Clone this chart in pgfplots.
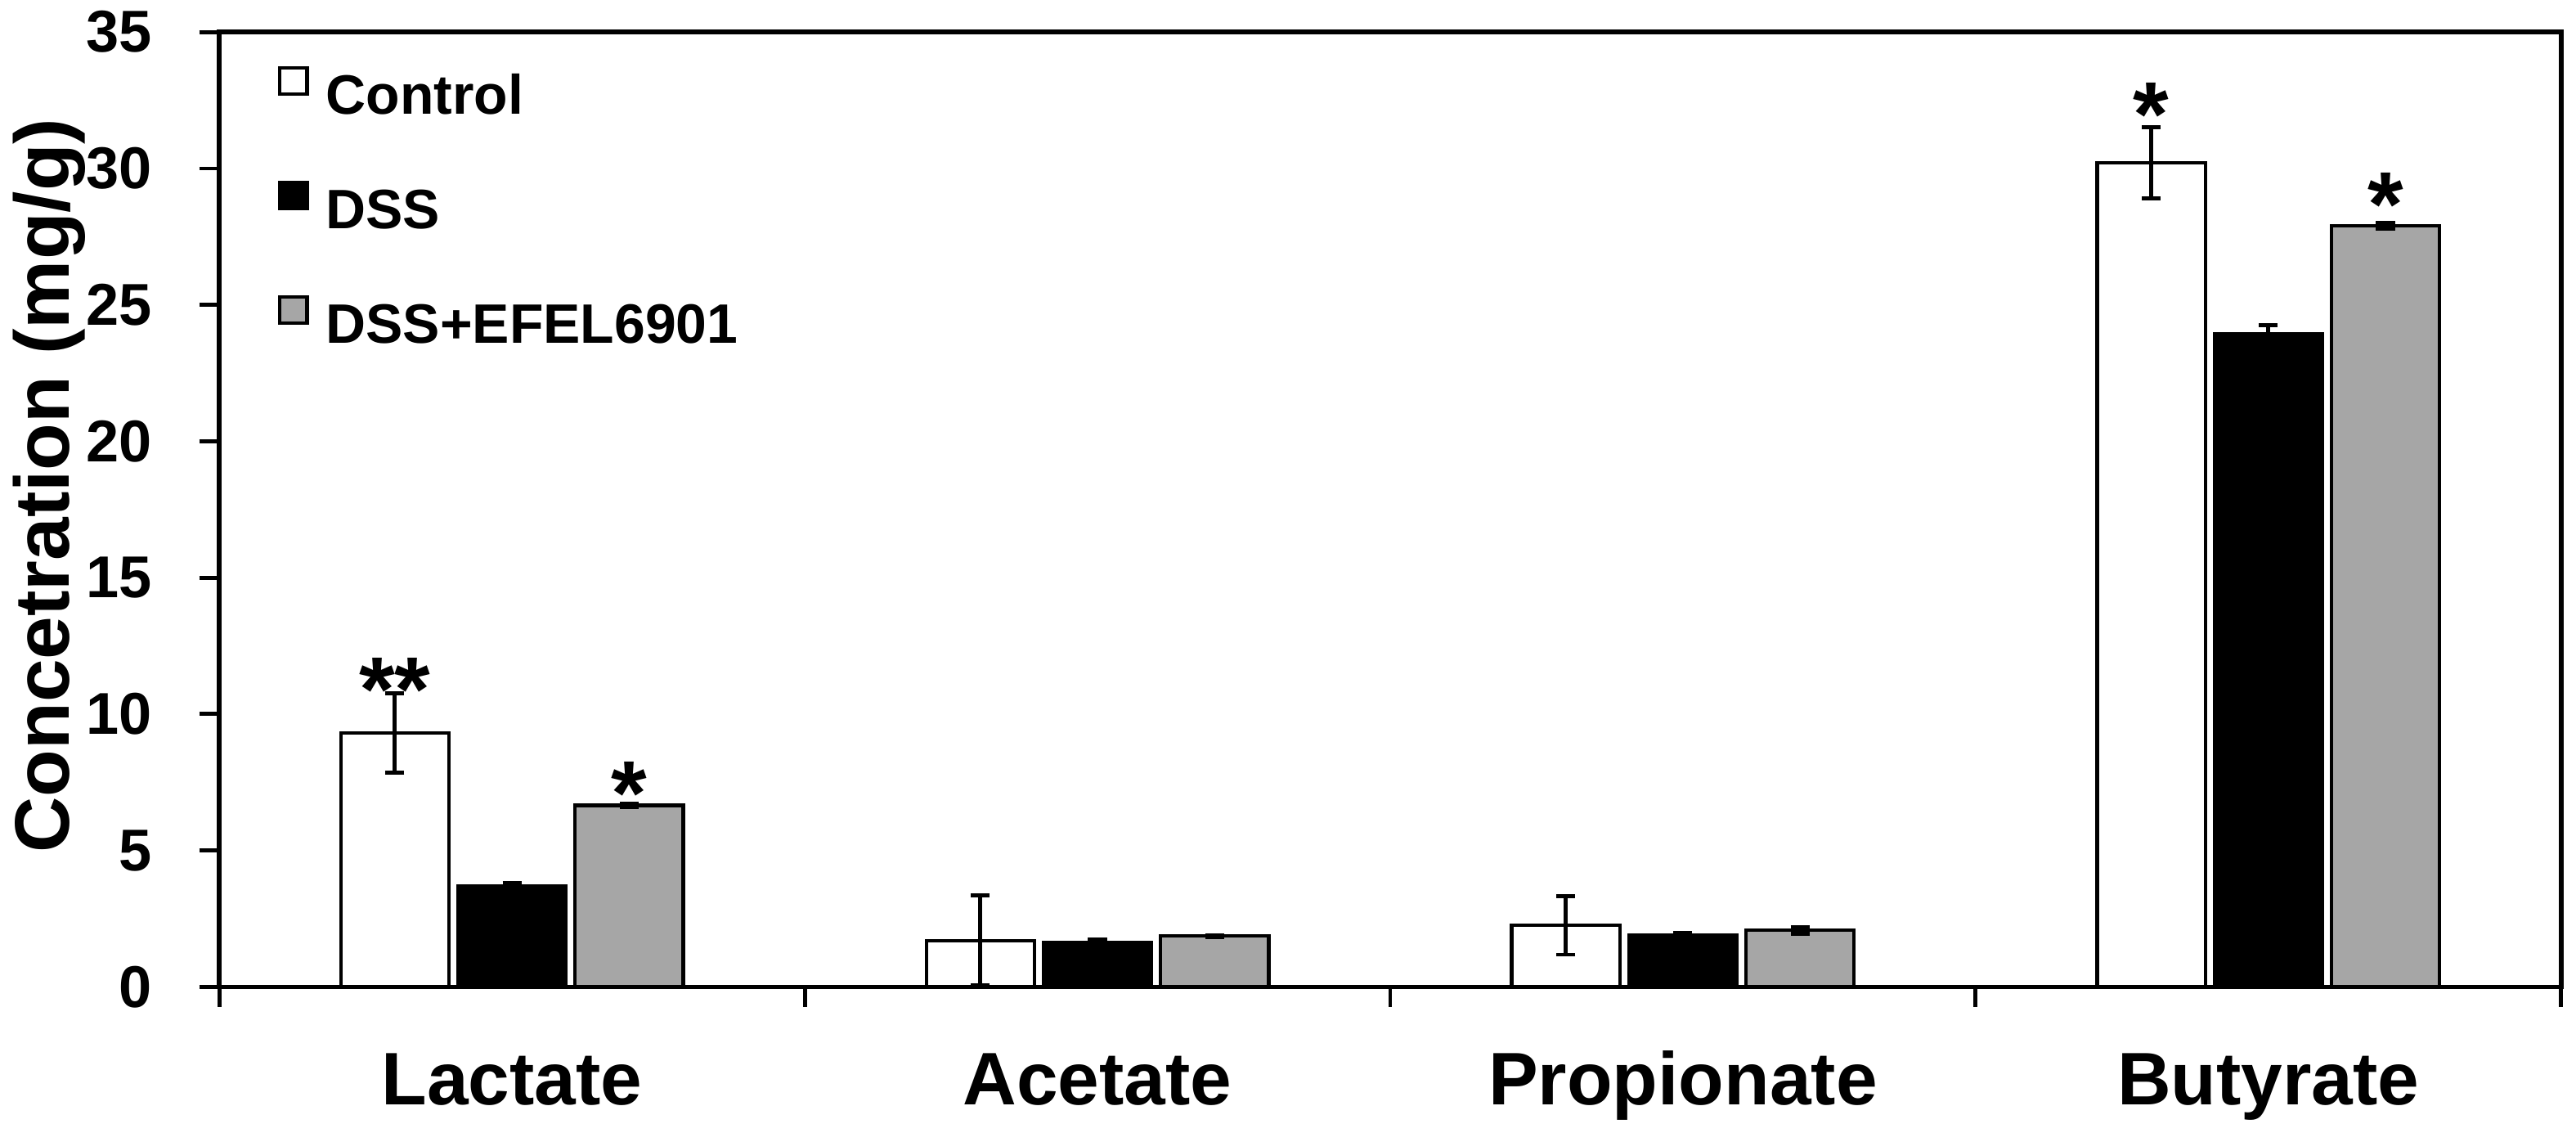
\documentclass[border=0pt]{standalone}
\usepackage{pgfplots}
\pgfplotsset{compat=1.18}
\usepackage{fontspec}
\setmainfont{Liberation Sans}
\definecolor{bargray}{RGB}{166,166,166}
\begin{document}
\begin{tikzpicture}
\begin{axis}[
  scale only axis,
  width=409pt, height=166.7pt,
  xmin=-0.5, xmax=3.5, ymin=0, ymax=35,
  clip=false,
  axis lines=box,
  axis line style={line width=0.8pt, black},
  tick style={line width=0.7pt, black},
  tick align=outside,
  xtick pos=bottom, ytick pos=left,
  major tick length=3.5pt,
  ytick={0,5,...,35},
  xtick={-0.5,0.5,1.5,2.5,3.5},
  xticklabels={},
  extra x ticks={0,1,2,3},
  extra x tick labels={Lactate,Acetate,Propionate,Butyrate},
  extra x tick style={major tick length=0pt,
     xticklabel style={font=\fontsize{13}{15}\selectfont\bfseries, anchor=base, yshift=-20.6pt}},
  yticklabel style={font=\fontsize{10.3}{12}\selectfont\bfseries, xshift=-4.7pt},
  /pgf/number format/assume math mode=true,
  ylabel={\fontsize{13.5}{16}\selectfont\bfseries Concetration (mg/g)},
  ylabel style={at={(axis description cs:-0.0725,0.525)}, anchor=center},
  legend style={draw=none, fill=none, at={(0.0245,0.9658)}, anchor=north west,
     inner sep=0pt, row sep=11.6pt,
     font=\fontsize{9.7}{11}\selectfont\bfseries,
     nodes={inner sep=0pt, text height=7pt, text depth=0pt},
     /tikz/every odd column/.append style={column sep=3pt}},
  legend cell align=left,
  legend image code/.code={\draw[#1, line width=0.6pt] (0pt,0pt) rectangle (4.8pt,4.6pt);},
]
\addplot[ybar, bar width=0.185, bar shift=0pt, fill=white, draw=black, line width=0.6pt,
  error bars/.cd, y dir=both, y explicit, error mark=|,
  error bar style={line width=0.7pt, black},
  error mark options={line width=0.7pt, mark size=1.65pt, black}]
  coordinates {(-0.2,9.3) +- (0,1.45) (0.8,1.7) +- (0,1.65) (1.8,2.25) +- (0,1.07) (2.8,30.2) +- (0,1.3)};
\addlegendentry{Control}
\addplot[ybar, bar width=0.185, bar shift=0pt, fill=black, draw=black, line width=0.6pt,
  error bars/.cd, y dir=both, y explicit, error mark=|,
  error bar style={line width=0.7pt, black},
  error mark options={line width=0.7pt, mark size=1.65pt, black}]
  coordinates {(0,3.7) +- (0,0.12) (1,1.62) +- (0,0.12) (2,1.89) +- (0,0.09) (3,23.95) +- (0,0.3)};
\addlegendentry{DSS}
\addplot[ybar, bar width=0.185, bar shift=0pt, fill=bargray, draw=black, line width=0.6pt,
  error bars/.cd, y dir=both, y explicit, error mark=|,
  error bar style={line width=0.7pt, black},
  error mark options={line width=0.7pt, mark size=1.65pt, black}]
  coordinates {(0.2,6.65) +- (0,0.07) (1.2,1.86) +- (0,0.04) (2.2,2.07) +- (0,0.12) (3.2,27.9) +- (0,0.1)};
\addlegendentry{DSS+EFEL6901}
\draw[line width=0.8pt, black] (rel axis cs:0,1) -- (rel axis cs:1,1) -- (rel axis cs:1,0);
\node[font=\fontsize{16}{18}\selectfont\bfseries, anchor=north, inner sep=0pt] at (axis cs:-0.2,12.09) {**};
\node[font=\fontsize{16}{18}\selectfont\bfseries, anchor=north, inner sep=0pt] at (axis cs:0.2,8.28) {*};
\node[font=\fontsize{16}{18}\selectfont\bfseries, anchor=north, inner sep=0pt] at (axis cs:2.8,33.18) {*};
\node[font=\fontsize{16}{18}\selectfont\bfseries, anchor=north, inner sep=0pt] at (axis cs:3.2,29.88) {*};
\end{axis}
\pgfresetboundingbox
\path[use as bounding box] ([shift={(-38.3pt,-25.4pt)}]current axis.south west) rectangle ([shift={(2.6pt,5.6pt)}]current axis.north east);
\end{tikzpicture}
\end{document}
